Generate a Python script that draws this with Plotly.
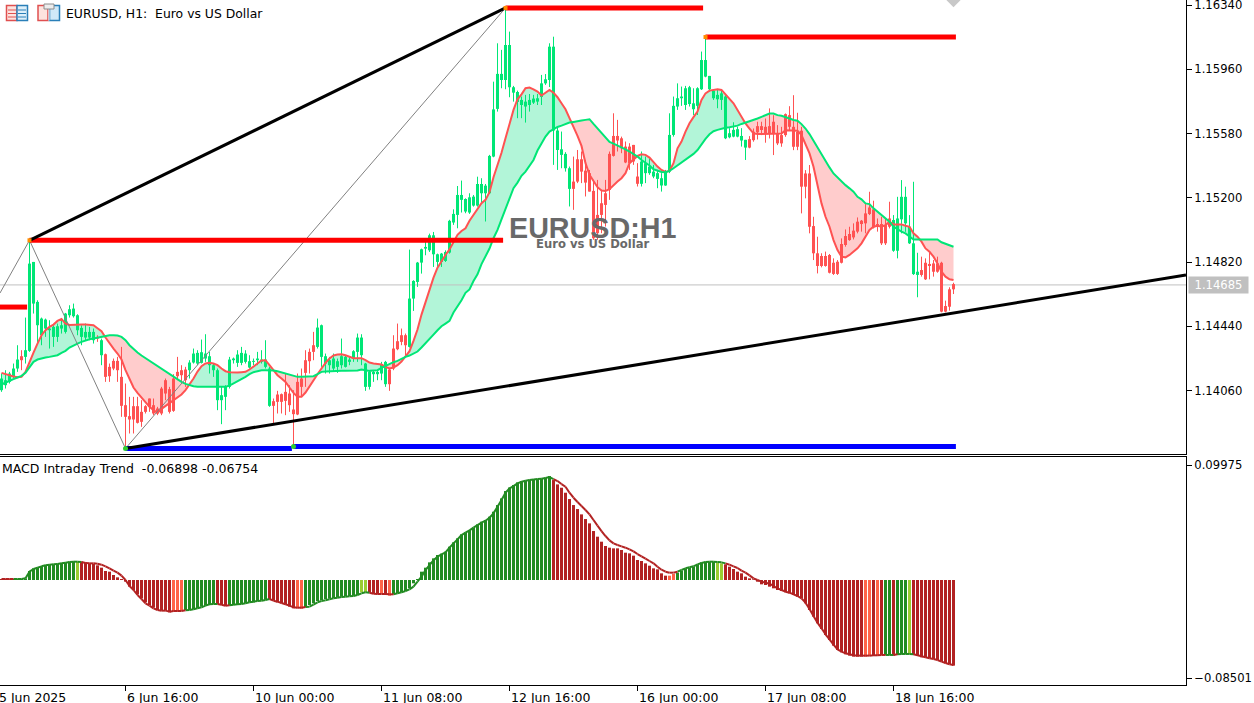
import numpy as np
import plotly.graph_objects as go

# ---- price data, in points (1 point = 0.00001) ----
OPEN = [114048,114078,114098,114128,114178,114252,114248,114284,114568,114438,
114378,114418,114408,114368,114368,114418,114398,114498,114492,114408,
114368,114364,114364,114348,114368,114258,114264,114188,114224,114224,
114128,113958,113892,113952,113952,113918,113952,113998,113958,113938,
114058,114108,114054,114118,114158,114168,114172,114168,114214,114208,
114212,114238,114198,114168,113988,113988,114008,114068,114228,114212,
114212,114218,114184,114218,114228,114218,114188,113954,113982,114022,
114024,114038,114028,113932,114098,114118,114228,114278,114318,114308,
114248,114208,114198,114178,114188,114198,114188,114218,114238,114278,
114258,114068,114068,114144,114144,114148,114084,114172,114298,114342,
114378,114378,114308,114598,114698,114814,114898,114888,114864,114818,
114818,114824,
114876,115054,115099,115188,115119,115113,115154,115154,
115227,115227,115227,115444,115726,115897,115897,115854,115822,115767,
115749,115740,115749,115763,115769,115797,115877,115897,115598,115483,
115454,115375,115253,115296,115428,115428,115361,115346,115241,115099,
115168,115227,115460,115566,115566,115552,115503,115503,115513,115326,
115283,115346,115346,115326,115312,115273,115273,115355,115572,115740,
115789,115749,115755,115724,115744,115842,115917,115842,115789,115783,
115779,115552,115558,115562,115562,115539,115497,
115547,115591,115624,
115624,115620,115624,115650,115581,115571,115695,115689,115620,115591,
115597,115344,115344,115033,114872,114856,114856,114862,114816,114822,
114927,114974,114986,115006,115059,115065,115108,115143,115132,115045,
115045,115039,115078,114887,114887,115073,115049,114931,114749,114744,
114773,114816,114809,114812,114812,114816,114560,114659,114690]

CLOSE = [114118,114108,114148,114178,114232,114228,114288,114808,114818,114578,
114478,114472,114418,114428,114432,114438,114508,114534,114538,114498,
114422,114398,114398,114398,114358,114348,114128,114132,114178,114168,
113954,113888,113872,113872,113852,113858,113918,113948,113908,113908,
113908,114028,113918,113924,114132,114138,114108,114214,114268,114272,
114276,114268,114252,114198,114168,114018,114068,114232,114238,114262,
114272,114268,114222,114224,114238,114232,114232,114178,113954,113978,
113978,113984,113958,113904,113902,114068,114152,114222,114278,114424,
114438,114252,114228,114238,114222,114252,114248,114232,114282,114364,
114364,114208,114158,114158,114158,114204,114218,114084,114178,114294,
114338,114318,114598,114704,114814,114894,114908,114978,114978,114864,
114868,114878,
115064,115105,115217,115217,115193,115203,115207,115282,
115282,115272,115448,115723,115933,115933,116104,116104,115854,115826,
115779,115769,115779,115787,115789,115877,115901,116094,116094,115598,
115487,115460,115375,115253,115296,115355,115290,115237,114961,114991,
115099,115158,115247,115448,115539,115493,115409,115405,115415,115283,
115415,115405,115385,115355,115346,115316,115355,115572,115744,115789,
115799,115848,115854,115759,115848,116015,116015,115921,115834,115809,
115818,115799,115582,115602,115606,115566,115543,
115497,115541,115587,
115601,115577,115581,115577,115522,115522,115571,115620,115502,115502,
115266,115266,115029,114872,114797,114797,114797,114757,114750,114750,
114816,114921,114950,114966,115000,115045,115049,115104,115025,115029,
114931,114931,115029,115069,115078,115206,115206,115029,114931,114763,
114744,114718,114797,114763,114763,114527,114527,114556,114659]

HIGH = [114148,114168,114158,114208,114318,114288,114484,114948,114818,114588,
114484,114478,114468,114438,114448,114468,114512,114558,114568,114504,
114438,114448,114428,114418,114378,114358,114268,114208,114238,114248,
114308,114088,114008,114008,114008,113988,113958,113998,113998,113948,
114068,114118,114068,114144,114248,114198,114188,114228,114298,114288,
114352,114384,114278,114208,114178,114068,114078,114248,114244,114288,
114308,114288,114258,114238,114278,114288,114348,114188,113998,114044,
114028,114148,114078,114048,114148,114178,114288,114298,114398,114478,
114442,114268,114248,114268,114238,114358,114258,114248,114288,114388,
114384,114212,114168,114164,114168,114218,114224,114178,114378,114448,
114418,114388,114892,114708,114818,114898,114948,114988,114998,114868,
114872,114888,
115070,115132,115270,115302,115197,115227,115217,115325,
115316,115282,115454,115887,116114,116075,116323,116183,115862,115834,
115799,115809,115814,115809,115814,115927,115932,116114,116153,115618,
115592,115470,115385,115444,115483,115474,115424,115365,115306,115306,
115247,115306,115474,115700,115661,115562,115533,115523,115513,115405,
115474,115444,115434,115395,115365,115346,115365,115700,115799,115877,
115858,115862,115862,115848,115854,116065,116151,115921,115838,115838,
115834,115809,115612,115647,115621,115612,115543,
115565,115610,115650,
115650,115669,115729,115689,115630,115620,115699,115742,115807,115703,
115620,115364,115394,115088,114970,114872,114882,114868,114842,114832,
114960,115013,115029,115049,115084,115069,115163,115236,115183,115078,
115088,115078,115177,115098,115206,115305,115266,115098,115295,114875,
114852,114842,114882,114832,114852,114822,114592,114671,114698]

LOW = [114038,114058,114088,114118,114158,114168,114208,114278,114508,114328,
114318,114368,114298,114308,114338,114388,114388,114484,114484,114378,
114318,114348,114348,114328,114338,114198,114098,114098,114168,114098,
113888,113698,113788,113788,113848,113828,113908,113918,113898,113898,
113898,113988,113908,113918,114108,114098,114068,114118,114208,114198,
114208,114218,114148,114128,113928,113844,113928,114058,114208,114188,
114198,114208,114178,114198,114198,114208,114178,113948,113844,113908,
113908,113898,113918,113708,113898,114008,114068,114148,114228,114298,
114188,114148,114148,114158,114152,114178,114184,114198,114218,114218,
114198,114044,114052,114098,114108,114108,114068,114044,114168,114288,
114318,114258,114304,114524,114668,114748,114858,114878,114788,114788,
114788,114818,
114870,115040,115020,115113,115109,115105,115148,115148,
115168,115060,115223,115440,115710,115848,115842,115795,115769,115671,
115671,115645,115710,115755,115749,115749,115868,115855,115395,115365,
115375,115355,115149,115129,115287,115287,115208,115237,114952,114952,
114991,115030,115188,115444,115474,115464,115405,115365,115395,115267,
115267,115287,115336,115316,115257,115237,115271,115346,115562,115720,
115744,115720,115740,115690,115690,115838,115913,115828,115779,115730,
115720,115547,115552,115558,115558,115503,115424,
115493,115532,115545,
115571,115526,115551,115453,115512,115502,115561,115600,115482,115482,
115108,115197,114990,114832,114753,114789,114793,114753,114744,114744,
114812,114911,114946,114954,114990,115000,114990,115098,115019,115000,
114921,114921,115019,114881,114842,114990,114999,114927,114744,114612,
114734,114714,114718,114734,114757,114523,114523,114533,114631]

FAST_MA = [114152,114144,114138,114130,114126,114128,114158,114220,114274,114328,
114378,114408,114428,114442,114464,114476,114448,114440,114442,114442,
114442,114442,114440,114438,114420,114402,114364,114328,114298,114268,
114232,114168,114118,114064,114032,114004,113976,113948,113928,113912,
113936,113954,113972,113988,114004,114022,114048,114082,114118,114160,
114192,114208,114212,114208,114198,114178,114162,114156,114154,114154,
114156,114158,114172,114188,114208,114226,114228,114198,114168,114138,
114118,114098,114064,114032,114008,114008,114034,114072,114112,114144,
114178,114212,114238,114256,114262,114264,114258,114248,114240,114240,
114240,114228,114214,114208,114204,114202,114188,114178,114184,114198,
114220,114248,114282,114344,114412,114502,114580,114658,114724,114784,
114825,114860,
114895,114935,114981,115004,115020,115065,115099,115138,
115168,115188,115233,115322,115389,115467,115552,115641,115720,115783,
115812,115848,115852,115842,115828,115805,115822,115838,115822,115795,
115759,115724,115671,115621,115566,115507,115405,115336,115296,115263,
115243,115241,115251,115275,115296,115316,115346,115405,115428,115448,
115458,115454,115438,115409,115385,115365,115353,115359,115405,115493,
115533,115592,115641,115677,115710,115779,115818,115834,115838,115842,
115838,115814,115785,115759,115720,115675,115640,
115610,115581,115577,
115577,115581,115581,115581,115581,115581,115600,115600,115600,115597,
115571,115522,115463,115384,115285,115167,115088,115029,114950,114891,
114852,114848,114862,114881,114901,114931,114970,115010,115029,115035,
115029,115039,115059,115043,115043,115043,115035,115029,114990,114970,
114941,114901,114881,114852,114812,114763,114734,114718,114714]

SLOW_MA = [114082,114094,114104,114114,114124,114134,114152,114184,114218,114232,
114240,114244,114248,114252,114258,114272,114284,114304,114318,114328,
114338,114348,114354,114358,114364,114368,114376,114378,114378,114376,
114368,114348,114318,114294,114274,114256,114240,114224,114208,114190,
114174,114158,114142,114128,114112,114098,114086,114078,114072,114068,
114068,114068,114068,114066,114064,114064,114068,114076,114088,114102,
114114,114128,114144,114156,114162,114168,114168,114168,114166,114162,
114156,114148,114142,114134,114128,114128,114128,114128,114132,114144,
114158,114160,114162,114162,114162,114164,114164,114164,114164,114166,
114172,114168,114164,114166,114168,114182,114194,114204,114216,114224,
114238,114248,114256,114268,114280,114304,114328,114354,114382,114408,
114432,114448,
114472,114522,114558,114594,114638,114658,114708,114748,
114808,114853,114900,114961,115010,115073,115138,115197,115257,115290,
115330,115355,115389,115424,115480,115519,115562,115592,115606,115619,
115627,115637,115645,115649,115655,115657,115661,115665,115637,115610,
115582,115552,115531,115521,115511,115499,115487,115474,115460,115444,
115424,115409,115391,115369,115359,115353,115351,115359,115375,115391,
115409,115424,115440,115460,115483,115519,115549,115576,115594,115602,
115610,115614,115617,115621,115627,115637,115645,
115650,115660,115669,
115679,115689,115699,115699,115689,115685,115679,115669,115660,115656,
115636,115610,115577,115537,115498,115453,115413,115380,115344,115321,
115295,115275,115256,115236,115206,115191,115167,115163,115138,115118,
115098,115079,115059,115029,115013,115000,114990,114974,114954,114954,
114954,114954,114954,114954,114954,114937,114927,114917,114911]

# MACD panel, in units of 0.000289
HIST = [3,3,3,3,3,3,5,27,35,38,42,45,47,47,49,51,53,55,56,55,
55,53,50,48,44,37,27,25,15,8,3,-5,-20,-30,-43,-55,-67,-75,-83,-90,
-92,-92,-97,-95,-95,-92,-90,-90,-88,-85,-80,-77,-75,-72,-72,-75,-78,-77,-75,-75,
-72,-70,-67,-67,-63,-61,-59,-57,-62,-67,-70,-74,-80,-85,-85,-86,-82,-75,-70,-63,
-60,-57,-56,-54,-53,-50,-49,-48,-47,-45,-37,-37,-38,-42,-43,-41,-45,-47,-43,-40,
-37,-33,-25,-10,3,25,37,53,65,75,79,85,100,113,125,137,143,150,157,167,
175,180,190,205,225,245,267,278,285,293,297,299,301,303,303,305,307,312,300,287,
277,262,243,225,213,197,183,170,147,130,115,102,97,95,95,90,82,80,73,60,
57,50,43,35,32,20,13,13,18,22,28,35,37,40,47,53,55,55,55,52,
50,47,40,33,25,20,10,5,2,-5,-13,-15,-20,-25,-30,-33,-37,-40,-45,-50,
-55,-70,-90,-110,-130,-147,-165,-180,-197,-210,-217,-223,-227,-230,-230,-230,-230,-228,-228,-228,
-225,-225,-225,-227,-225,-223,-222,-222,-225,-228,-232,-233,-235,-237,-240,-245,-250,-253,-257]

SIGNAL = [3,3,3,3,3,3,5,25,33,37,41,44,46,47,48,50,52,54,55,55,
54,51,50,50,49,46,41,35,28,22,13,0,-18,-30,-45,-57,-70,-77,-85,-90,
-92,-92,-95,-93,-93,-93,-91,-90,-88,-85,-82,-77,-73,-72,-72,-74,-77,-76,-74,-73,
-72,-70,-67,-65,-63,-62,-60,-57,-62,-65,-69,-73,-77,-82,-83,-83,-81,-80,-74,-67,
-63,-61,-58,-55,-53,-51,-50,-49,-48,-45,-40,-37,-38,-41,-42,-42,-42,-43,-43,-40,
-37,-33,-28,-20,-5,10,30,45,59,70,77,83,97,110,122,135,142,149,157,165,
172,178,187,200,220,240,262,275,282,290,295,298,300,302,303,304,306,309,303,297,
288,280,262,247,234,222,210,197,180,163,147,132,119,110,105,101,97,92,86,78,
71,64,57,50,40,31,25,22,22,25,30,35,38,41,47,51,54,55,55,54,
53,50,46,41,36,28,22,14,5,0,-5,-8,-11,-18,-25,-30,-35,-38,-43,-48,
-55,-68,-87,-108,-128,-145,-163,-178,-194,-208,-215,-220,-223,-226,-227,-227,-227,-227,-226,-226,
-225,-225,-225,-225,-223,-222,-222,-222,-223,-226,-229,-232,-235,-237,-240,-245,-249,-253,-255]

STATE_RUNS = [("down",2),("fall",1),("up",16),("rise",1),("down",23),("fall",3),("up",8),("down",3),
              ("up",10),("down",7),("fall",2),("up",14),("rise",2),("down",3),("fall",1),("down",1),
              ("fall",1),("up",40),("down",29),("fall",2),("up",10),("rise",2),("down",35),("fall",2),
              ("down",1),("fall",1),("down",1),("up",2),("down",1),("up",3),("rise",1),("down",11)]

# chart levels, in points
LAST_PRICE = 114685
LEFT_ZIGZAG = 114637
RIGHT_TREND = 114744
LEFT_RED_LEVEL = 114554
BLUE_LEVEL_2 = 113730
PRICE_TICKS = [1.16340, 1.15960, 1.15580, 1.15200, 1.14820, 1.14440, 1.14060]
MACD_TICKS = [0.09975, -0.08501]
TIME_BARS = [-1, 31, 63, 95, 127, 159, 191, 223]
TIME_LABELS = ["5 Jun 2025", "6 Jun 16:00", "10 Jun 00:00", "11 Jun 08:00", "12 Jun 16:00",
               "16 Jun 00:00", "17 Jun 08:00", "18 Jun 16:00"]
LEGEND_TEXT = "MACD Intraday Trend  -0.06898 -0.06754"
TITLE_TEXT = "EURUSD, H1:  Euro vs US Dollar"

# ---- preparation ----
N = 239
for a in (OPEN, HIGH, LOW, CLOSE, FAST_MA, SLOW_MA, HIST, SIGNAL):
    assert len(a) == N, len(a)
states = [s for s, n in STATE_RUNS for _ in range(n)]
assert len(states) == N, len(states)

def prices(a):
    v = np.array(a, dtype=float)
    v[:112] += 0.015 * (115008 - v[:112])      # read-off calibration of the left part
    return v / 1e5

O, H, L, C, FAST, SLOW = [prices(a) for a in (OPEN, HIGH, LOW, CLOSE, FAST_MA, SLOW_MA)]
W, PH = 1254.0, 703.0
X = np.arange(N)
X_RANGE = [-0.375, 296.125]
AX_R = 1186 / W
GREEN, RED = "#00E676", "#FF5252"
FILL_G, FILL_R = "#B2F5D8", "#FFCCCC"
hist_col = {"up": "#228B22", "rise": "#9ACD32", "down": "#B22222", "fall": "#FF6347"}
MACD_UNIT = 0.000289
hist = np.array(HIST) * MACD_UNIT
sig = np.array(SIGNAL) * MACD_UNIT

fig = go.Figure()

def line(x, y, color, width, xa="x", ya="y"):
    fig.add_trace(go.Scatter(x=x, y=y, mode="lines", line=dict(color=color, width=width),
                             hoverinfo="skip", xaxis=xa, yaxis=ya))

def segs(idx, a, b):
    xs, ys = [], []
    for i in idx:
        xs += [int(i), int(i), None]
        ys += [float(a[i]), float(b[i]), None]
    return xs, ys

# MA ribbon
upper = np.maximum(FAST, SLOW)
lower = np.minimum(FAST, SLOW)
for edge, col in ((upper, FILL_G), (lower, FILL_R)):
    fig.add_trace(go.Scatter(x=X, y=SLOW, mode="lines", line=dict(width=0), hoverinfo="skip"))
    fig.add_trace(go.Scatter(x=X, y=edge, mode="lines", line=dict(width=0), fill="tonexty",
                             fillcolor=col, hoverinfo="skip"))

# last price line
line(X_RANGE, [LAST_PRICE / 1e5] * 2, "#C0C0C0", 1)

# candles
up = [i for i in range(N) if C[i] >= O[i]]
dn = [i for i in range(N) if C[i] < O[i]]
for idx, col in ((up, GREEN), (dn, RED)):
    xs, ys = segs(idx, L, H)
    line(xs, ys, col, 1)
    xs, ys = segs(idx, O, C)
    line(xs, ys, col, 3)

# MA lines
line(X, FAST, RED, 2)
line(X, SLOW, GREEN, 2)

# zigzag
line([X_RANGE[0], 7, 31, 126], [LEFT_ZIGZAG / 1e5, H[7], L[31], H[126]], "#808080", 1)

# levels
line([X_RANGE[0], 6.4], [LEFT_RED_LEVEL / 1e5] * 2, "#FF0000", 5)
line([7, 125.4], [H[7]] * 2, "#FF0000", 5)
line([126, 175.4], [H[126]] * 2, "#FF0000", 5)
line([176, 238.6], [H[176]] * 2, "#FF0000", 5)
line([31, 72.6], [L[31]] * 2, "#0000FF", 5)
line([73, 238.6], [BLUE_LEVEL_2 / 1e5] * 2, "#0000FF", 5)

# trend lines
line([7, 126], [H[7], H[126]], "#000000", 3)
line([31, X_RANGE[1]], [L[31], RIGHT_TREND / 1e5], "#000000", 3)

# swing markers
fig.add_trace(go.Scatter(x=[7, 126, 176], y=[H[7], H[126], H[176]], mode="markers",
                         marker=dict(symbol="square", size=4, color="#FF8C00"), hoverinfo="skip"))
fig.add_trace(go.Scatter(x=[31, 73], y=[L[31], BLUE_LEVEL_2 / 1e5], mode="markers",
                         marker=dict(symbol="circle", size=5, color="#32CD32"), hoverinfo="skip"))
fig.add_trace(go.Scatter(x=[238], y=[1.16370], mode="markers",
                         marker=dict(symbol="diamond", size=11, color="#C8C8C8"), hoverinfo="skip"))

# MACD histogram
fig.add_trace(go.Bar(x=X, y=hist, width=0.75, marker=dict(color=[hist_col[s] for s in states], line=dict(width=0)),
                     hoverinfo="skip", xaxis="x2", yaxis="y2"))
# signal line, coloured by state
for group, col in ((("up", "rise"), "#228B22"), (("down", "fall"), "#B22222")):
    xs, ys = [], []
    for i in range(N):
        if states[i] in group:
            xs.append(i); ys.append(float(sig[i]))
            if i + 1 < N:
                xs.append(i + 1); ys.append(float(sig[i + 1]))
            xs.append(None); ys.append(None)
    line(xs, ys, col, 2, "x2", "y2")

FONT = "DejaVu Sans"
common_x = dict(range=X_RANGE, domain=[0, AX_R], showgrid=False, zeroline=False, showline=True,
                linecolor="black", linewidth=1, showticklabels=False)
common_y = dict(side="right", showgrid=False, zeroline=False, showline=True, linecolor="black",
                linewidth=1, ticks="outside", ticklen=5, tickcolor="black", tickwidth=1,
                tickformat=".5f", ticklabeloverflow="allow",
                tickfont=dict(family=FONT, size=11.6, color="black"))

def py(y):
    return 1 - y / PH

annos = []
for t, lab in zip(TIME_BARS, TIME_LABELS):
    annos.append(dict(text=lab, xref="paper", yref="paper", x=(1.5 + 4 * t) / W, y=py(697),
                      xanchor="left", yanchor="middle", showarrow=False, borderpad=0,
                      font=dict(family=FONT, size=12.5, color="black")))
annos.append(dict(text=LEGEND_TEXT, xref="paper", yref="paper", x=1 / W, y=py(468), xanchor="left",
                  yanchor="middle", showarrow=False, borderpad=0, font=dict(family=FONT, size=12.5, color="black")))
annos.append(dict(text=TITLE_TEXT, xref="paper", yref="paper", x=65 / W, y=py(13), xanchor="left",
                  yanchor="middle", showarrow=False, borderpad=0, font=dict(family=FONT, size=12.4, color="black")))
annos.append(dict(text="<b>EURUSD:H1</b>", xref="paper", yref="paper", x=592 / W, y=py(228), xanchor="center",
                  yanchor="middle", showarrow=False, borderpad=0,
                  font=dict(family="Liberation Sans", size=28.7, color="#696969")))
annos.append(dict(text="<b>Euro vs US Dollar</b>", xref="paper", yref="paper", x=593 / W, y=py(244.5), xanchor="center",
                  yanchor="middle", showarrow=False, borderpad=0,
                  font=dict(family=FONT, size=11.6, color="#696969")))
annos.append(dict(text=f"{LAST_PRICE/1e5:.5f}", xref="paper", yref="paper", x=1218.5 / W, y=py(285), xanchor="center",
                  yanchor="middle", showarrow=False, borderpad=0, width=59, height=16, bgcolor="#C0C0C0",
                  font=dict(family=FONT, size=11.6, color="white")))

def rect(x0, y0, x1, y1, fill, edge=None, w=1):
    return dict(type="rect", xref="paper", yref="paper", x0=x0 / W, x1=x1 / W, y0=py(y0), y1=py(y1),
                fillcolor=fill, line=dict(color=edge or fill, width=w if edge else 0), layer="above")

R_E, B_E = "#E05050", "#2A7FB8"
shapes = [rect(6.5, 5.5, 17, 20.5, "#FDE3DF", R_E, 1.5), rect(17, 5.5, 27.5, 20.5, "#DCEFFA", B_E, 1.5)]
for yy in (9.5, 13, 16.5):
    shapes.append(rect(8, yy, 16, yy + 1, R_E))
    shapes.append(rect(18, yy, 26, yy + 1, B_E))
shapes += [rect(38, 5.5, 48, 20.5, "#FDE3DF", R_E, 1.5), rect(49.5, 5.5, 59.5, 20.5, "#CFE8F8", B_E, 1.5),
           rect(44, 4, 54, 9, "#EDEDED", "#8C8C8C"), rect(48.5, 9.5, 49.5, 20.5, "white")]

fig.update_layout(
    width=1254, height=703, autosize=False, margin=dict(l=0, r=0, t=0, b=0),
    paper_bgcolor="white", plot_bgcolor="white", showlegend=False, template=None,
    barmode="overlay", hovermode=False, annotations=annos, shapes=shapes,
    xaxis=dict(anchor="y", ticks="", **common_x),
    xaxis2=dict(anchor="y2", mirror=True, ticks="outside", ticklen=5, tickcolor="black",
                tickvals=TIME_BARS[1:], **common_x),
    yaxis=dict(anchor="x", domain=[py(454), 1], range=[1.13685, 1.16370], tickvals=PRICE_TICKS, **common_y),
    yaxis2=dict(anchor="x2", domain=[py(685), py(457)], range=[-0.09108, 0.10670], tickvals=MACD_TICKS, **common_y),
)

fig.write_html("out.html", config=dict(displayModeBar=False, staticPlot=True),
               post_script="document.body.style.margin='0';document.body.style.overflow='hidden';")
